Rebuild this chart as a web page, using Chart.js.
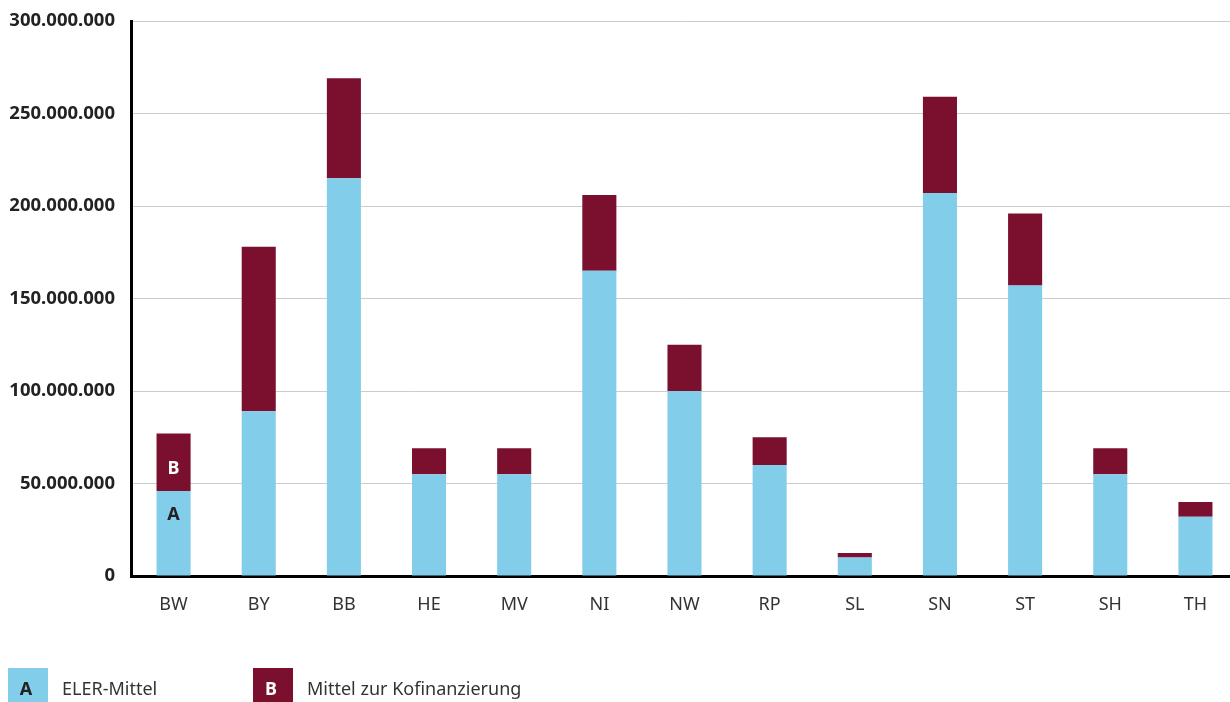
<!DOCTYPE html>
<html>
<head>
<meta charset="utf-8">
<script src="https://cdn.jsdelivr.net/npm/chart.js@4"></script>
<style>
  html, body { margin: 0; padding: 0; background: #fff; overflow: hidden; }
  #wrap { width: 1238px; height: 702px; position: relative; }
</style>
</head>
<body>
<div id="wrap"><canvas id="chart"></canvas></div>
<script>
const laender = ["BW", "BY", "BB", "HE", "MV", "NI", "NW", "RP", "SL", "SN", "ST", "SH", "TH"];
const elerMittel = [46000000, 89000000, 215000000, 55000000, 55000000, 165000000, 100000000, 60000000, 10000000, 207000000, 157000000, 55000000, 32000000];
const kofinanzierung = [31000000, 89000000, 54000000, 14000000, 14000000, 41000000, 25000000, 15000000, 2500000, 52000000, 39000000, 14000000, 8000000];
const legendItems = [
    { letter: "A", label: "ELER-Mittel" },
    { letter: "B", label: "Mittel zur Kofinanzierung" }
];

const blue = "#82cdea";
const red = "#7a0f2e";
const fontFam = "'Noto Sans', 'Open Sans', sans-serif";

// letters A / B inside the first bar + legend below the chart
const extras = {
    id: "extras",
    afterDatasetsDraw(chart) {
        const ctx = chart.ctx;
        const y = chart.scales.y;
        const bar = chart.getDatasetMeta(0).data[0];
        const split = y.getPixelForValue(elerMittel[0]);
        ctx.save();
        ctx.font = "bold 18px " + fontFam;
        ctx.textAlign = "center";
        ctx.textBaseline = "middle";
        ctx.fillStyle = "#fff";
        ctx.fillText("B", bar.x, split - 22);
        ctx.fillStyle = "#222";
        ctx.fillText("A", bar.x, split + 24);

        // legend
        const xs = [8, 253];
        const colors = [blue, red];
        legendItems.forEach((item, i) => {
            ctx.fillStyle = colors[i];
            ctx.fillRect(xs[i], 668, 40, 34);
            ctx.fillStyle = i === 0 ? "#222" : "#fff";
            ctx.font = "bold 18px " + fontFam;
            ctx.textAlign = "center";
            ctx.fillText(item.letter, xs[i] + 18, 690);
            ctx.fillStyle = "#333";
            ctx.font = "18px " + fontFam;
            ctx.textAlign = "left";
            ctx.fillText(item.label, xs[i] + 54, 690);
        });
        ctx.restore();
    }
};

new Chart(document.getElementById("chart"), {
    type: "bar",
    data: {
        labels: laender,
        datasets: [
            { label: legendItems[0].label, data: elerMittel, backgroundColor: blue },
            { label: legendItems[1].label, data: kofinanzierung, backgroundColor: red }
        ]
    },
    options: {
        responsive: true,
        maintainAspectRatio: false,
        animation: false,
        layout: { padding: { top: 21, right: 0, left: 0, bottom: 0 } },
        datasets: { bar: { barPercentage: 0.4, categoryPercentage: 1 } },
        plugins: { legend: { display: false }, tooltip: { enabled: false } },
        scales: {
            x: {
                stacked: true,
                grid: { display: false, drawTicks: false },
                border: { color: "#000", width: 3 },
                ticks: { color: "#333", font: { size: 18, family: fontFam }, padding: 18 },
                afterFit(scale) { scale.height = 126; scale.paddingLeft = 0; scale.paddingRight = 0; }
            },
            y: {
                stacked: true,
                min: 0,
                max: 300000000,
                grid: { color: "#cccccc", lineWidth: 1, drawTicks: false },
                border: { color: "#000", width: 3 },
                ticks: {
                    stepSize: 50000000,
                    color: "#222",
                    padding: 16,
                    font: { size: 18.5, weight: "bold", family: fontFam },
                    callback: v => String(v).replace(/\B(?=(\d{3})+(?!\d))/g, ".")
                },
                afterFit(scale) { scale.width = 131; scale.paddingTop = 0; scale.paddingBottom = 0; }
            }
        }
    },
    plugins: [extras]
});
</script>
</body>
</html>
